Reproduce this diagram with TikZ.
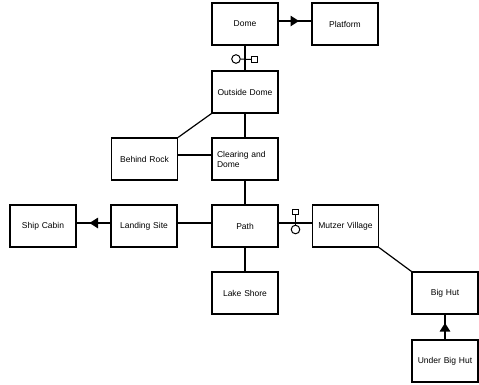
\documentclass[tikz,border=0pt]{standalone}
\usepackage{fontspec}
\setmainfont{Liberation Sans}
\usetikzlibrary{arrows.meta,decorations.markings}
\tikzset{
  room/.style={draw, line width=1.1pt, minimum width=66pt, minimum height=42pt,
    inner sep=4pt, text width=56pt, align=center,
    font=\fontsize{8.5}{10}\selectfont},
  link/.style={line width=1.2pt},
  midarrow/.style={link, postaction={decorate}, decoration={markings,
    mark=at position 0.5 with {\arrow[xshift=4pt]{Triangle[length=8.5pt,width=10.5pt]}}}},
  lockcirc/.style={circle, draw, line width=1pt, minimum size=8.6pt, inner sep=0pt},
  locksq/.style={rectangle, draw, line width=1pt, minimum size=5.6pt, inner sep=0pt}
}
\begin{document}
\begin{tikzpicture}[x=1pt,y=-1pt]
\useasboundingbox (0,0) rectangle (479,384);
\node[room] (dome) at (245,24) {Dome};
\node[room] (platform) at (345,24) {Platform};
\node[room] (outside) at (245,92) {Outside Dome};
\node[room] (behind) at (144.5,159) {Behind Rock};
\node[room, align=left] (clearing) at (245,159) {Clearing and\\Dome};
\node[room] (ship) at (43,226) {Ship Cabin};
\node[room] (landing) at (144,226) {Landing Site};
\node[room] (path) at (245,226) {Path};
\node[room] (mutzer) at (345.5,226) {Mutzer Village};
\node[room] (lake) at (245,293) {Lake Shore};
\node[room] (bighut) at (445,293) {Big Hut};
\node[room] (under) at (445,361) {Under Big Hut};

% connectors
\draw[midarrow] ([yshift=3pt]dome.east) -- ([yshift=3pt]platform.west);
\draw[link] (dome) -- (outside);
\draw[link] (outside.south west) -- (behind.north east);
\draw[link] (outside) -- (clearing);
\draw[link] ([yshift=4pt]behind.east) -- ([yshift=4pt]clearing.west);
\draw[link] (clearing) -- (path);
\draw[midarrow] ([yshift=3pt]landing.west) -- ([yshift=3pt]ship.east);
\draw[link] ([yshift=3pt]landing.east) -- ([yshift=3pt]path.west);
\draw[link] ([yshift=3pt]path.east) -- ([yshift=3pt]mutzer.west);
\draw[link] (path) -- (lake);
\draw[link] (mutzer.south east) -- (bighut.north west);
\draw[midarrow] (under) -- (bighut);

% lock symbols
\node[lockcirc] (c1) at (236,59) {};
\node[locksq] (s1) at (254.5,59.5) {};
\draw[line width=1pt] (c1.east) -- (s1.west);
\node[locksq] (s2) at (295.5,212) {};
\node[lockcirc] (c2) at (295.5,229.5) {};
\draw[line width=1pt] (s2.south) -- (c2.north);
\end{tikzpicture}
\end{document}
